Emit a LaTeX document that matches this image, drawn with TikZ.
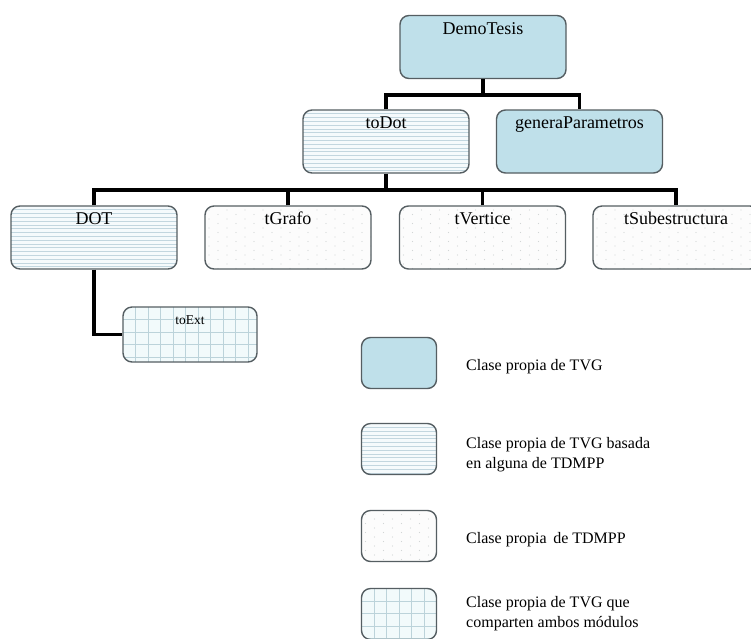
\documentclass[tikz,border=0pt]{standalone}
\usepackage{fontspec}
\setmainfont{Liberation Serif}

\definecolor{plainfill}{HTML}{BFE0EA}
\definecolor{framecol}{HTML}{555E62}
\definecolor{hatchline}{HTML}{C2D6DF}
\definecolor{hatchbg}{HTML}{F5FAFC}
\definecolor{dotcol}{HTML}{D2D6D6}
\definecolor{dotbg}{HTML}{FCFCFC}
\definecolor{gridline}{HTML}{BCD3DA}
\definecolor{gridbg}{HTML}{F2FAFB}

\tikzset{
  box/.style={draw=framecol, line width=1.4pt, rounded corners=9pt,
    inner sep=0pt, minimum width=166pt, minimum height=63pt},
  own/.style={box, fill=plainfill},
  striped/.style={box, fill=hatchbg, path picture={
    \foreach \k in {1,...,22}
      \draw[hatchline, line width=0.7pt]
        ([yshift=-\k*3.8pt]path picture bounding box.north west) --
        ([yshift=-\k*3.8pt]path picture bounding box.north east);}},
  dotted box/.style={box, fill=dotbg, path picture={
    \foreach \i in {0,...,19}
      \foreach \j in {0,...,7}
        \fill[dotcol] ([xshift={4pt+\i*9pt}, yshift={-4pt-\j*9pt+mod(\i,2)*4.5pt}]path picture bounding box.north west) circle (0.6pt);}},
  gridded/.style={box, fill=gridbg, path picture={
    \foreach \k in {1,...,14}
      \draw[gridline, line width=0.6pt]
        ([xshift=\k*12.5pt]path picture bounding box.north west) --
        ([xshift=\k*12.5pt]path picture bounding box.south west);
    \foreach \k in {1,...,6}
      \draw[gridline, line width=0.6pt]
        ([yshift=-\k*12.5pt]path picture bounding box.north west) --
        ([yshift=-\k*12.5pt]path picture bounding box.north east);}},
  keybox/.style={minimum width=75pt, minimum height=51pt},
  lbl/.style={font=\fontsize{18}{21}\selectfont, anchor=base, inner sep=0pt},
  keytext/.style={font=\fontsize{16}{20}\selectfont, anchor=base west, inner sep=0pt},
  link/.style={line width=3.2pt, black}
}

\begin{document}
\begin{tikzpicture}[x=1pt, y=-1pt]
\useasboundingbox (0,0) rectangle (751,638);
\fill[white] (0,0) rectangle (751,638);
\begin{scope}
\clip (0,0) rectangle (751,638);

% class boxes
\node[own] (demo) at (483,47) {};
\node[striped] (todot) at (386,141.5) {};
\node[own] (genera) at (579.5,141.5) {};
\node[striped] (dot) at (94,237.5) {};
\node[dotted box] (tgrafo) at (288,237.5) {};
\node[dotted box] (tvertice) at (482.5,237.5) {};
\node[dotted box] (tsub) at (676,237.5) {};
\node[gridded, minimum width=134pt, minimum height=55pt] (toext) at (190,334.5) {};

% box titles
\node[lbl] (tdemo) at ([yshift=-19.5pt]demo.north) {DemoTesis};
\node[lbl] (ttodot) at ([yshift=-19.5pt]todot.north) {toDot};
\node[lbl] (tgenera) at ([yshift=-19.5pt]genera.north) {generaParametros};
\node[lbl] (tdot) at ([yshift=-19.5pt]dot.north) {DOT};
\node[lbl] (ttgrafo) at ([yshift=-19.5pt]tgrafo.north) {tGrafo};
\node[lbl] (ttvertice) at ([yshift=-19.5pt]tvertice.north) {tVertice};
\node[lbl] (ttsub) at ([yshift=-19.5pt]tsub.north) {tSubestructura};
\node[lbl, font=\fontsize{13.5}{16}\selectfont] (ttoext) at ([yshift=-18pt]toext.north) {toExt};

% tree connectors
\coordinate (busA) at (0,95);
\coordinate (busB) at (0,190);
\draw[link] (demo.south) -- (demo.south |- busA);
\draw[link] (todot.north) -- (todot.north |- busA) -- (genera.north |- busA) -- (genera.north);
\draw[link] (todot.south) -- (todot.south |- busB);
\draw[link] (dot.north) -- (dot.north |- busB) -- (tsub.north |- busB) -- (tsub.north);
\draw[link] (tgrafo.north) -- (tgrafo.north |- busB);
\draw[link] (tvertice.north) -- (tvertice.north |- busB);
\draw[link] (dot.south) |- (toext.west);

% legend
\node[own, keybox] (k1) at (399,363) {};
\node[striped, keybox] (k2) at (399,449) {};
\node[dotted box, keybox] (k3) at (399,536) {};
\node[gridded, keybox] (k4) at (399,614) {};

\node[keytext] (l1) at (466,370) {Clase propia de TVG};
\node[keytext] (l2a) at (466,448) {Clase propia de TVG basada};
\node[keytext] (l2b) at (466,468) {en alguna de TDMPP};
\node[keytext] (l3) at (466,543) {Clase propia\, de TDMPP};
\node[keytext] (l4a) at (466,607) {Clase propia de TVG que};
\node[keytext] (l4b) at (466,627) {comparten ambos módulos};
\end{scope}
\end{tikzpicture}
\end{document}
